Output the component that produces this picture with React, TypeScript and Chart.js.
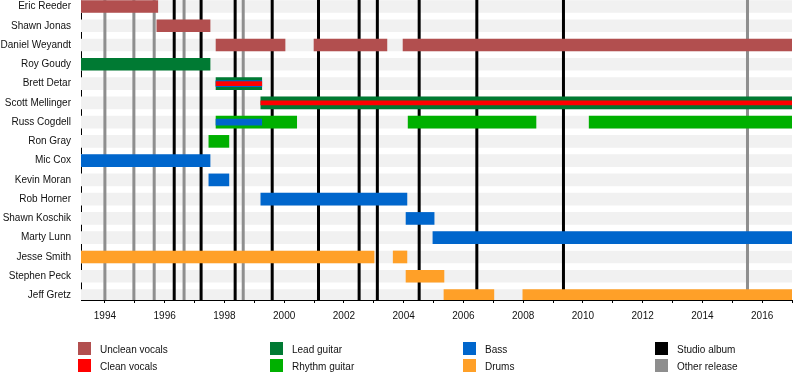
import React, { useEffect, useRef } from 'react';
import { Chart, registerables } from 'chart.js';

Chart.register(...registerables);

// ---- data ----
const members = [
  'Eric Reeder', 'Shawn Jonas', 'Daniel Weyandt', 'Roy Goudy', 'Brett Detar',
  'Scott Mellinger', 'Russ Cogdell', 'Ron Gray', 'Mic Cox', 'Kevin Moran',
  'Rob Horner', 'Shawn Koschik', 'Marty Lunn', 'Jesse Smith', 'Stephen Peck', 'Jeff Gretz',
];

const periodStart = 1993.2;
const periodEnd = 2017.0;

// [memberIndex, from, till]
const uncleanVocals: [number, number, number][] = [
  [0, 1993.2, 1995.77], [1, 1995.74, 1997.52],
  [2, 1997.72, 2000.03], [2, 2001.0, 2003.44], [2, 2003.98, 2017.0],
];
const cleanVocals: [number, number, number][] = [
  [4, 1997.72, 1999.25], [5, 1999.22, 2017.0],
];
const leadGuitar: [number, number, number][] = [
  [3, 1993.2, 1997.52], [4, 1997.72, 1999.25], [5, 1999.22, 2017.0],
];
const rhythmGuitar: [number, number, number][] = [
  [6, 1997.72, 2000.42], [6, 2004.15, 2008.43], [6, 2010.21, 2017.0], [7, 1997.48, 1998.15],
];
const bass: [number, number, number][] = [
  [8, 1993.2, 1997.52], [9, 1997.48, 1998.15], [10, 1999.22, 2004.11],
  [11, 2004.08, 2005.02], [12, 2004.98, 2017.0],
];
const bassSecondary: [number, number, number][] = [
  [4, 1997.72, 1999.25], [6, 1997.72, 1999.25],
];
const drums: [number, number, number][] = [
  [13, 1993.2, 2003.01], [13, 2003.65, 2004.11], [14, 2004.08, 2005.35],
  [15, 2005.35, 2007.02], [15, 2007.99, 2017.0],
];

const studioAlbums = [1996.32, 1997.22, 1998.36, 1999.6, 2001.15, 2002.51, 2003.12, 2004.52, 2006.45, 2009.35];
const otherReleases = [1994.0, 1994.97, 1995.65, 1996.65, 1998.63, 2015.51];

const yearTicks = [1994, 1995, 1996, 1997, 1998, 1999, 2000, 2001, 2002, 2003, 2004, 2005,
  2006, 2007, 2008, 2009, 2010, 2011, 2012, 2013, 2014, 2015, 2016, 2017];

// ---- styles ----
const COLORS = {
  unclean: '#b24f4f',
  clean: '#ff0000',
  lead: '#007a33',
  rhythm: '#00b000',
  bass: '#0066cc',
  drums: '#ffa028',
  studio: '#000000',
  other: '#8e8e8e',
  band: '#f1f1f1',
};

const Y_MIN = -0.337;
const Y_MAX = 15.234;
const FONT = "'Liberation Sans', Arial, Helvetica, sans-serif";

const legendColumns: [string, string][][] = [
  [['Unclean vocals', COLORS.unclean], ['Clean vocals', COLORS.clean]],
  [['Lead guitar', COLORS.lead], ['Rhythm guitar', COLORS.rhythm]],
  [['Bass', COLORS.bass], ['Drums', COLORS.drums]],
  [['Studio album', COLORS.studio], ['Other release', COLORS.other]],
];
const legendColX = [78, 270, 463, 655];

function toBars(rows: [number, number, number][]) {
  return rows.map(([m, a, b]) => ({ x: [a, b], y: m }));
}

function vLine(x: number, color: string, label: string) {
  return {
    type: 'line' as const,
    label,
    data: [{ x, y: Y_MIN }, { x, y: Y_MAX }],
    borderColor: color,
    borderWidth: 3,
    pointRadius: 0,
    order: 50,
  };
}

function barSet(label: string, rows: [number, number, number][], color: string, thickness: number, order: number) {
  return {
    type: 'bar' as const,
    label,
    data: toBars(rows),
    backgroundColor: color,
    barThickness: thickness,
    borderWidth: 0,
    stack: 'all',
    order,
  };
}

export default function App() {
  const ref = useRef<HTMLCanvasElement | null>(null);

  useEffect(() => {
    if (!ref.current) return;
    const bands = members.map((_, i) => [i, periodStart, periodEnd] as [number, number, number]);
    const datasets: any[] = [
      barSet('band', bands, COLORS.band, 12, 100),
      ...studioAlbums.map((x) => vLine(x, COLORS.studio, 'Studio album')),
      ...otherReleases.map((x) => vLine(x, COLORS.other, 'Other release')),
      barSet('Unclean vocals', uncleanVocals, COLORS.unclean, 12, 20),
      barSet('Lead guitar', leadGuitar, COLORS.lead, 12, 20),
      barSet('Rhythm guitar', rhythmGuitar, COLORS.rhythm, 12, 20),
      barSet('Bass', bass, COLORS.bass, 12, 20),
      barSet('Drums', drums, COLORS.drums, 12, 20),
      barSet('Bass (secondary)', bassSecondary, COLORS.bass, 6, 10),
      barSet('Clean vocals', cleanVocals, COLORS.clean, 4, 5),
    ];

    const chart = new Chart(ref.current, {
      type: 'bar',
      data: { datasets },
      options: {
        indexAxis: 'y',
        animation: false,
        responsive: false,
        maintainAspectRatio: false,
        layout: { autoPadding: false, padding: { left: 0, right: 8, top: 0, bottom: 0 } },
        plugins: { legend: { display: false }, tooltip: { enabled: false } },
        scales: {
          x: {
            type: 'linear',
            position: 'bottom',
            offset: false,
            min: periodStart,
            max: periodEnd,
            stacked: false,
            afterBuildTicks: (axis: any) => {
              axis.ticks = yearTicks.map((v) => ({ value: v }));
            },
            afterFit: (axis: any) => {
              axis.height = 80;
              axis.paddingLeft = 0;
              axis.paddingRight = 0;
            },
            grid: {
              display: true,
              offset: false,
              drawOnChartArea: false,
              drawTicks: true,
              tickLength: 3,
              color: '#000',
            },
            border: { display: true, color: '#000', width: 1 },
            ticks: {
              autoSkip: false,
              maxRotation: 0,
              padding: 7,
              color: '#111',
              font: { family: FONT, size: 10 },
              callback: (v: any) => (Number(v) % 2 === 0 ? String(v) : ''),
            },
          },
          y: {
            type: 'linear',
            position: 'left',
            offset: false,
            reverse: true,
            min: Y_MIN,
            max: Y_MAX,
            afterBuildTicks: (axis: any) => {
              axis.ticks = members.map((_, i) => ({ value: i }));
            },
            afterFit: (axis: any) => {
              axis.width = 81;
              axis.paddingTop = 0;
              axis.paddingBottom = 0;
            },
            grid: { display: false, offset: false, drawTicks: false, tickLength: 0 },
            border: { display: true, color: '#000', width: 1 },
            ticks: {
              autoSkip: false,
              padding: 10,
              color: '#111',
              font: { family: FONT, size: 10 },
              callback: (_v: any, i: number) => members[i],
            },
          },
        },
      } as any,
    });
    return () => chart.destroy();
  }, []);

  return (
    <div style={{ position: 'absolute', left: 0, top: 0, width: 800, height: 380, background: '#fff' }}>
      <canvas ref={ref} width={800} height={380} style={{ position: 'absolute', left: 0, top: 0, width: 800, height: 380 }} />
      {legendColumns.map((col, ci) =>
        col.map(([label, color], ri) => (
          <div
            key={label}
            style={{
              position: 'absolute',
              left: legendColX[ci],
              top: 342 + ri * 16.7,
              height: 13,
              display: 'flex',
              alignItems: 'center',
              fontFamily: FONT,
              fontSize: 10,
              color: '#111',
              whiteSpace: 'nowrap',
            }}
          >
            <span style={{ display: 'inline-block', width: 13, height: 13, background: color, marginRight: 9 }} />
            <span style={{ position: 'relative', top: 1 }}>{label}</span>
          </div>
        ))
      )}
    </div>
  );
}
